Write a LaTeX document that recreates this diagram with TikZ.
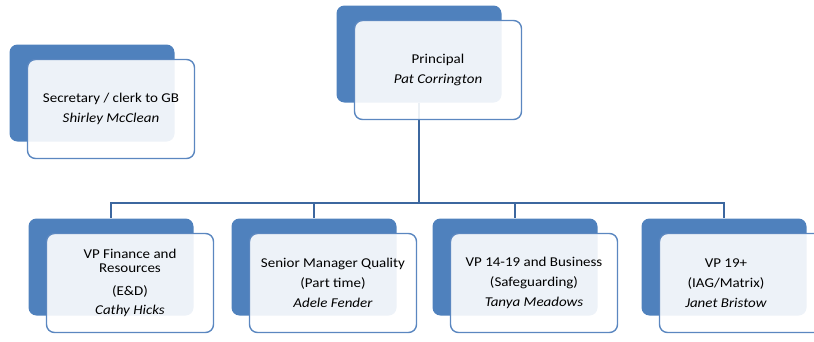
\documentclass[tikz,border=0pt]{standalone}
\usepackage{fontspec}
\setmainfont{Carlito}[FakeStretch=1.11]
\definecolor{boxblue}{HTML}{4F81BD}
\definecolor{edgeblue}{HTML}{5B87C0}
\definecolor{linkblue}{HTML}{3C679F}
\begin{document}
\begin{tikzpicture}[x=1pt, y=-1pt,
		back/.style = {rectangle, rounded corners=8pt, fill=boxblue, minimum width=165pt, minimum height=97pt, inner sep=0pt},
		front/.style = {rectangle, rounded corners=8pt, draw=edgeblue, line width=1.4pt, fill=white, fill opacity=0.9, text opacity=1, minimum width=167pt, minimum height=99pt, inner sep=0pt, shift={(19,16)}},
		txt/.style = {align=center, text=black, text opacity=1, font=\fontsize{13.5}{13.5}\selectfont},
		link/.style = {draw=linkblue, line width=1.6pt},
		]
		\useasboundingbox (0,0) rectangle (814,341);
		
		%Back boxes
		\node[back]	(sec)	at	(92, 93)	{};
		\node[back]	(pr)	at	(419, 54)	{};
		\node[back]	(fin)	at	(111, 267)	{};
		\node[back]	(qual)	at	(314, 267)	{};
		\node[back]	(biz)	at	(515, 267)	{};
		\node[back]	(adult)	at	(724, 267)	{};
		
		%Lines
		\coordinate	(hub)	at	(419, 203);
		\draw[link]	(pr)	--	(hub);
		\draw[link]	(hub)	-|	(fin);
		\draw[link]	(hub)	-|	(qual);
		\draw[link]	(hub)	-|	(biz);
		\draw[link]	(hub)	-|	(adult);
		
		%Front boxes
		\node[front, txt]	(secF)	at	(sec)	{Secretary / clerk to GB\\[6.5pt]\textit{Shirley McClean}};
		\node[front, txt]	(prF)	at	(pr)	{Principal\\[6.5pt]\textit{Pat Corrington}};
		\node[front, txt]	(finF)	at	(fin)	{VP Finance and\\Resources\\[9.5pt](E\&D)\\[5.5pt]\textit{Cathy Hicks}};
		\node[front, txt]	(qualF)	at	(qual)	{Senior Manager Quality\\[6.5pt](Part time)\\[6.5pt]\textit{Adele Fender}};
		\node[front, txt]	(bizF)	at	(biz)	{VP 14-19 and Business\\[6.5pt](Safeguarding)\\[6.5pt]\textit{Tanya Meadows}};
		\node[front, label={[txt, xshift=-17pt]center:VP 19+\\[6.5pt](IAG/Matrix)\\[6.5pt]\textit{Janet Bristow}}]	(adultF)	at	(adult)	{};
		
	\end{tikzpicture}
\end{document}
